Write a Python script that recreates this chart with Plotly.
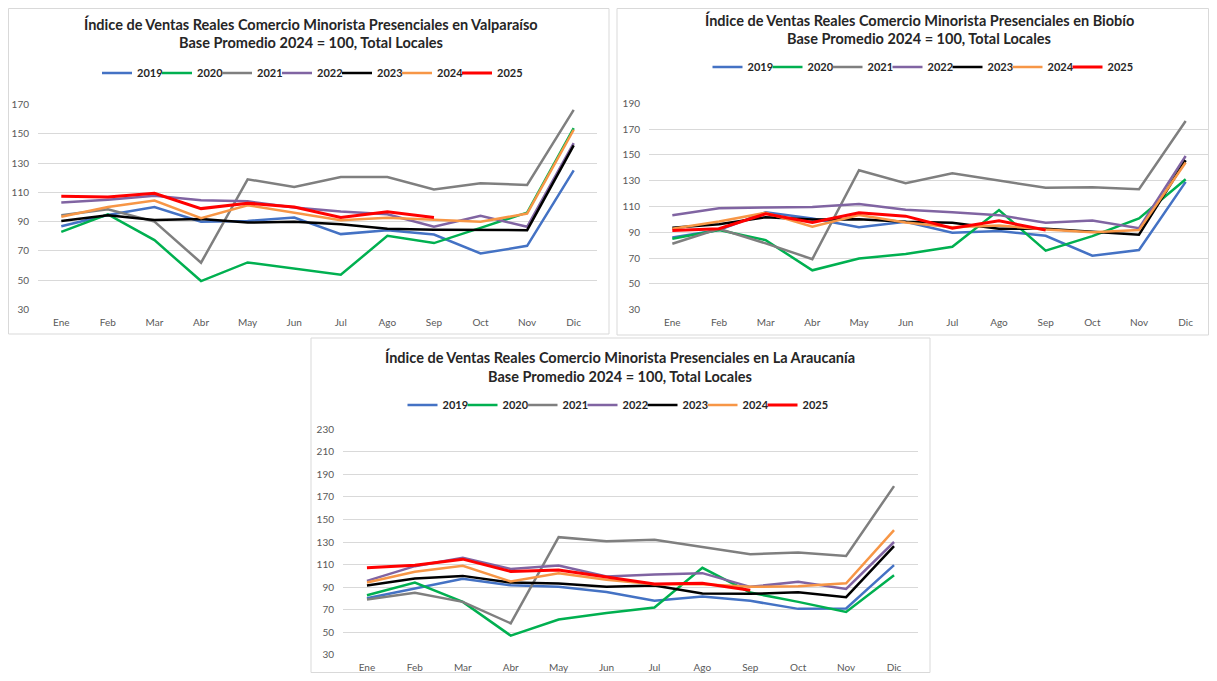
import plotly.graph_objects as go

months = ["Ene", "Feb", "Mar", "Abr", "May", "Jun", "Jul", "Ago", "Sep", "Oct", "Nov", "Dic"]
years = ["2019", "2020", "2021", "2022", "2023", "2024", "2025"]
year_colors = ["#4472C4", "#00B050", "#7F7F7F", "#8064A2", "#000000", "#F79646", "#FF0000"]

titles = [
    ("Índice de Ventas Reales Comercio Minorista Presenciales en Valparaíso", "Base Promedio 2024 = 100, Total Locales"),
    ("Índice de Ventas Reales Comercio Minorista Presenciales en Biobío", "Base Promedio 2024 = 100, Total Locales"),
    ("Índice de Ventas Reales Comercio Minorista Presenciales en La Araucanía", "Base Promedio 2024 = 100, Total Locales"),
]

# Valparaíso
valp_2019 = [86.9, 94.6, 100.0, 90.0, 90.5, 92.8, 81.5, 84.2, 81.2, 68.3, 73.5, 125.0]
valp_2020 = [83.0, 95.0, 77.4, 49.5, 62.2, 58.0, 53.8, 80.3, 75.4, 85.8, 96.2, 153.8]
valp_2021 = [94.4, 98.5, 90.0, 62.0, 118.9, 113.7, 120.5, 120.5, 111.9, 116.2, 115.0, 166.3]
valp_2022 = [103.0, 105.0, 107.6, 104.6, 103.9, 99.6, 96.9, 95.1, 86.5, 94.0, 86.5, 143.6]
valp_2023 = [90.5, 94.4, 91.2, 91.9, 89.4, 89.9, 88.3, 85.1, 84.4, 84.2, 84.2, 142.0]
valp_2024 = [93.3, 100.0, 104.4, 92.4, 101.2, 96.0, 91.0, 92.6, 91.2, 89.9, 95.5, 152.7]
valp_2025 = [107.3, 106.9, 109.4, 98.9, 102.6, 100.0, 92.8, 96.7, 92.8, None, None, None]

# Biobío
bio_2019 = [86.0, 91.7, 105.6, 100.7, 94.0, 98.1, 89.6, 90.9, 87.3, 71.8, 76.2, 129.1]
bio_2020 = [85.0, 91.7, 83.9, 60.5, 69.7, 73.1, 78.8, 107.2, 75.7, 87.0, 100.7, 131.2]
bio_2021 = [81.1, 92.7, 81.4, 69.2, 138.1, 128.1, 135.8, 129.9, 124.5, 125.0, 123.4, 176.3]
bio_2022 = [103.3, 108.7, 109.2, 109.7, 112.0, 107.4, 105.6, 103.3, 97.4, 99.2, 93.2, 149.2]
bio_2023 = [93.5, 96.3, 101.7, 99.9, 100.2, 98.1, 97.4, 92.7, 92.7, 90.6, 88.1, 145.9]
bio_2024 = [92.7, 98.4, 105.1, 94.3, 103.3, 97.6, 94.0, 95.3, 92.2, 90.1, 91.7, 144.1]
bio_2025 = [91.4, 92.7, 104.3, 97.6, 105.1, 102.5, 93.2, 98.9, 91.7, None, None, None]

# La Araucanía
arau_2019 = [80.2, 88.8, 97.4, 91.7, 90.3, 85.8, 77.9, 81.7, 77.9, 70.8, 71.1, 109.5]
arau_2020 = [82.9, 94.1, 77.0, 47.1, 61.3, 67.2, 72.0, 107.1, 85.2, 77.0, 68.1, 100.6]
arau_2021 = [79.0, 85.0, 77.0, 58.0, 134.3, 130.7, 131.9, 125.7, 119.2, 120.7, 117.7, 179.5]
arau_2022 = [95.6, 108.6, 116.0, 106.2, 109.2, 99.4, 101.2, 102.4, 90.3, 94.7, 88.5, 130.0]
arau_2023 = [91.4, 97.7, 100.0, 94.1, 93.2, 90.3, 91.4, 84.4, 84.1, 85.5, 81.1, 126.3]
arau_2024 = [94.1, 103.6, 108.9, 95.0, 102.4, 96.5, 92.6, 92.6, 90.3, 90.9, 93.5, 140.5]
arau_2025 = [107.1, 109.5, 114.8, 103.9, 105.3, 98.8, 92.9, 93.5, 87.3, None, None, None]

y_ranges = [(30, 170), (30, 190), (30, 230)]

region_series = [
    [valp_2019, valp_2020, valp_2021, valp_2022, valp_2023, valp_2024, valp_2025],
    [bio_2019, bio_2020, bio_2021, bio_2022, bio_2023, bio_2024, bio_2025],
    [arau_2019, arau_2020, arau_2021, arau_2022, arau_2023, arau_2024, arau_2025],
]

# page has an 8px body margin: size the figure so the page exactly fills the window
OFF = 8
W, H = 1217 - 2 * OFF, 681 - 2 * OFF
FONT = "Lato"


def fx(x):
    return (x - OFF) / W


def fy(y):
    return 1 - (y - OFF) / H


# geometry in window pixels
panels = [
    dict(l=38, r=597, t=104.3, b=309.7, tx=311, ty1=24, ty2=43, ly=73, lx=97, box=(8.5, 8.5, 609, 334)),
    dict(l=649, r=1209, t=103.3, b=309.7, tx=919, ty1=20, ty2=39, ly=67, lx=707.5, box=(617, 8.5, 1208.5, 335)),
    dict(l=343, r=918, t=429, b=655, tx=620, ty1=357, ty2=376, ly=405, lx=402.5, box=(311, 338, 930, 672.5)),
]

fig = go.Figure()
for i, series in enumerate(region_series):
    suffix = "" if i == 0 else str(i + 1)
    for j, vals in enumerate(series):
        fig.add_trace(go.Scatter(
            x=months, y=vals, mode="lines", name=years[j],
            line=dict(color=year_colors[j], width=3 if j == 6 else 2.5),
            xaxis="x" + suffix, yaxis="y" + suffix,
            legend="legend" + suffix,
            connectgaps=False,
        ))
    # blank spacer entry so the last legend label is not clipped
    fig.add_trace(go.Scatter(
        x=[None], y=[None], mode="lines", name=" ",
        line=dict(color="rgba(0,0,0,0)", width=0),
        xaxis="x" + suffix, yaxis="y" + suffix,
        legend="legend" + suffix, hoverinfo="skip",
    ))

layout = dict(
    width=W, height=H, margin=dict(l=0, r=0, t=0, b=0, autoexpand=False),
    paper_bgcolor="white", plot_bgcolor="white",
    font=dict(family=FONT, color="#595959"),
    showlegend=True,
)
shapes = []
annotations = []
for i, p in enumerate(panels):
    suffix = "" if i == 0 else str(i + 1)
    lo, hi = y_ranges[i]
    layout["xaxis" + suffix] = dict(
        domain=[fx(p["l"]), fx(p["r"])], anchor="y" + suffix,
        range=[-0.5, len(months) - 0.5],
        showgrid=False, zeroline=False, showline=False, ticks="",
        tickfont=dict(family=FONT, size=10, color="#595959"),
        ticklabelstandoff=5, fixedrange=True,
    )
    layout["yaxis" + suffix] = dict(
        domain=[fy(p["b"]), fy(p["t"])], anchor="x" + suffix,
        range=[lo - 0.05, hi + 0.05], tick0=lo, dtick=20,
        showgrid=True, gridcolor="#D9D9D9", gridwidth=1,
        zeroline=False, showline=False, ticks="",
        tickfont=dict(family=FONT, size=10, color="#595959"),
        ticklabelstandoff=8, fixedrange=True,
    )
    layout["legend" + suffix] = dict(
        orientation="h", x=fx(p["lx"]), xanchor="left", y=fy(p["ly"]), yanchor="middle",
        font=dict(family=FONT, size=11, color="#262626", weight="bold"),
        bgcolor="rgba(0,0,0,0)", itemclick=False, itemdoubleclick=False,
        entrywidth=15, entrywidthmode="pixels",
    )
    x0, y0, x1, y1 = p["box"]
    shapes.append(dict(type="rect", xref="paper", yref="paper",
                       x0=fx(x0), x1=fx(x1), y0=fy(y1), y1=fy(y0),
                       line=dict(color="#D9D9D9", width=1), fillcolor="rgba(0,0,0,0)", layer="below"))
    for txt, yy in ((titles[i][0], p["ty1"]), (titles[i][1], p["ty2"])):
        annotations.append(dict(text="<b>" + txt + "</b>", x=fx(p["tx"]), y=fy(yy), xref="paper", yref="paper",
                                xanchor="center", yanchor="middle", showarrow=False,
                                font=dict(family=FONT, size=14.5, color="#262626")))

layout["shapes"] = shapes
layout["annotations"] = annotations
fig.update_layout(**layout)
fig.write_html("out.html")
